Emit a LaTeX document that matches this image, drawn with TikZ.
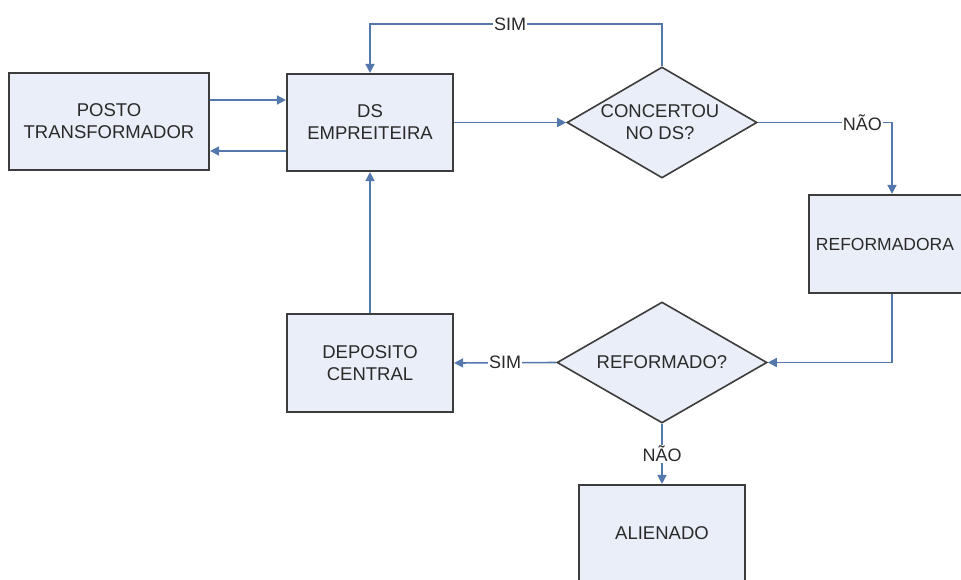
\documentclass[tikz,border=0pt]{standalone}
\usepackage{fontspec}
\setmainfont{Liberation Sans}
\usetikzlibrary{shapes.geometric,arrows.meta}
\definecolor{boxfill}{HTML}{E9EEF8}
\definecolor{boxdraw}{HTML}{3C3C3C}
\definecolor{linecol}{HTML}{5478AC}
\definecolor{txtcol}{HTML}{2A2A2A}
\tikzset{
  box/.style={draw=boxdraw, line width=2.2pt, fill=boxfill, rectangle, inner sep=0pt,
    minimum width=166pt, minimum height=97pt, align=center, text=txtcol,
    font=\fontsize{18.5}{22}\selectfont},
  decision/.style={draw=boxdraw, line width=1.6pt, fill=boxfill, diamond, inner sep=0pt},
  dtext/.style={align=center, text=txtcol, font=\fontsize{18.5}{22}\selectfont},
  arr/.style={draw=linecol, line width=1.6pt, -{Triangle[length=9pt,width=9pt]}},
  lbl/.style={fill=white, inner sep=1pt, text=txtcol, font=\fontsize{18}{22}\selectfont}
}
\begin{document}
\begin{tikzpicture}[x=1pt,y=-1pt]
\useasboundingbox (0,0) rectangle (961,579);
\clip (0,0) rectangle (961,579);
\fill[white] (0,0) rectangle (961,579);

\node[box, minimum width=200pt] (posto) at (109,121.5) {POSTO\\TRANSFORMADOR};
\node[box] (ds) at (370,122.5) {DS\\EMPREITEIRA};
\node[decision, minimum width=190pt, minimum height=111pt] (d1) at (662,122.5) {};
\node[dtext] (d1t) at (660,122.5) {CONCERTOU\\NO DS?};
\node[box, minimum height=98pt] (ref) at (892,244) {};
\node[dtext, font=\fontsize{17.5}{22}\selectfont] (reft) at (885,244) {REFORMADORA};
\node[decision, minimum width=210pt, minimum height=121pt] (d2) at (662,362.5) {};
\node[dtext] (d2t) at (662,362.5) {REFORMADO?};
\node[box, minimum height=98pt] (dep) at (370,363) {DEPOSITO\\CENTRAL};
\node[box, minimum height=96pt] (ali) at (662,533) {ALIENADO};

\draw[arr] (posto.east |- 0,100) -- (ds.west |- 0,100);
\draw[arr] (ds.west |- 0,151) -- (posto.east |- 0,151);
\draw[arr] (ds.east) -- (d1.west);
\draw[arr] (d1.north) -- ++(0,-42) -| node[lbl, pos=0.26] {SIM} (ds.north);
\draw[arr] (d1.east) -| node[lbl, pos=0.39] {NÃO} (ref.north);
\draw[arr] (ref.south) |- (d2.east);
\draw[arr] (d2.west) -- node[lbl] {SIM} (dep.east);
\draw[arr] (dep.north) -- (ds.south);
\draw[arr] (d2.south) -- node[lbl] {NÃO} (ali.north);
\end{tikzpicture}
\end{document}
